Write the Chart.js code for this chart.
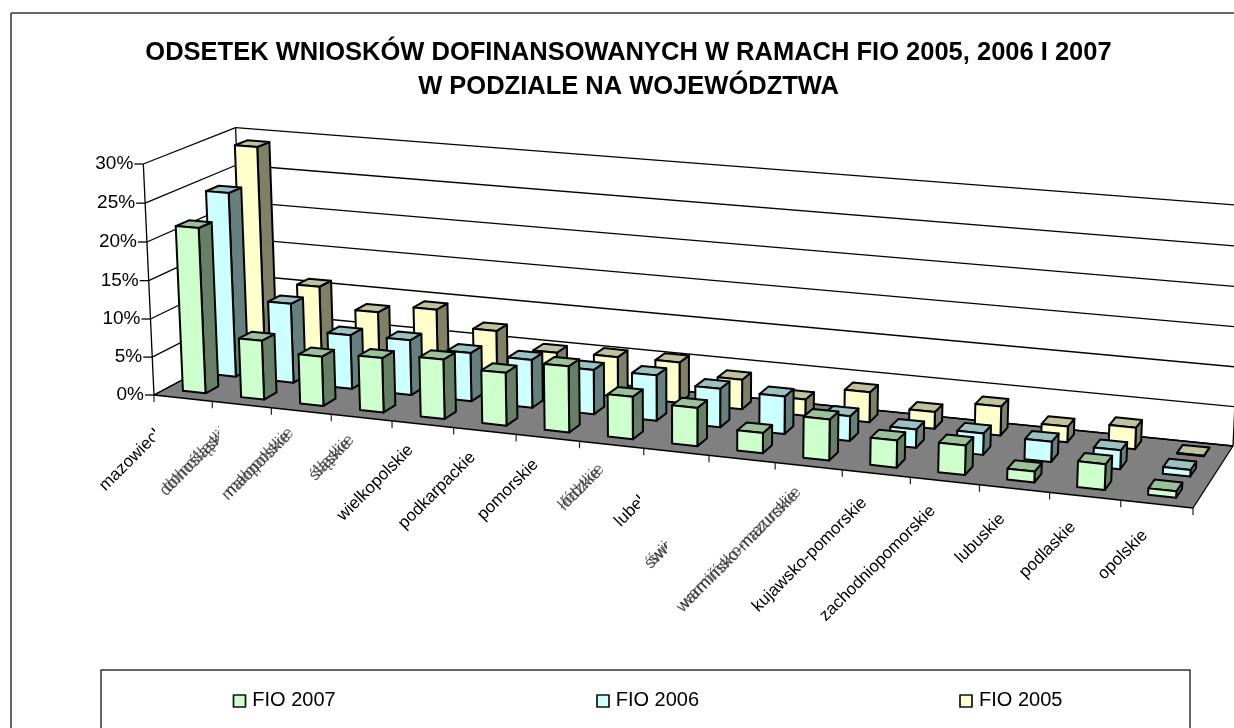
<!DOCTYPE html>
<html><head><meta charset="utf-8">
<style>html,body{margin:0;padding:0;background:#fff;overflow:hidden}canvas{display:block}</style>
<script src="https://cdn.jsdelivr.net/npm/chart.js@4"></script></head>
<body><canvas id="c" width="1234" height="728"></canvas>
<script>
const categories=["mazowieckie","dolnośląskie","małopolskie","śląskie","wielkopolskie","podkarpackie","pomorskie","łódzkie","lubelskie","świętokrzyskie","warmińsko-mazurskie","kujawsko-pomorskie","zachodniopomorskie","lubuskie","podlaskie","opolskie"];
const fio2007=[21.6,7.7,6.4,7.0,7.6,6.7,8.3,5.3,4.75,2.5,5.0,3.3,3.55,1.3,3.05,0.75];
const fio2006=[24.4,10.5,7.1,7.2,6.3,6.2,5.7,5.8,4.9,4.75,3.1,2.3,2.65,2.5,2.3,0.8];
const fio2005=[28.8,10.8,8.1,9.2,7.1,5.0,5.2,5.3,3.85,2.1,3.85,2.15,3.7,2.0,2.7,0.05];
const titleLines=["ODSETEK WNIOSKÓW DOFINANSOWANYCH W RAMACH FIO 2005, 2006 I 2007","W PODZIALE NA WOJEWÓDZTWA"];
const seriesNames=["FIO 2007","FIO 2006","FIO 2005"];

// camera: floor corners in page pixels, vanishing point of the verticals
const floor={p0:[154,395],p1:[1193,508],p2:[1233,446],p3:[244,347]};
const vanish=[690,12000], topFront=164, farShrink=0.04, spreadWarp=0.032;
const FONT='"Liberation Sans", Arial, sans-serif';
const palette=[
 {front:'#CCFFCC',side:'#668066',top:'#99C299'},
 {front:'#CCFFFF',side:'#668080',top:'#99C2C2'},
 {front:'#FFFFCC',side:'#808066',top:'#C2C299'}];

function makeCamera(){
 const [x0,y0]=floor.p0,[x1,y1]=floor.p1,[x2,y2]=floor.p2,[x3,y3]=floor.p3;
 const dx1=x1-x2,dy1=y1-y2,dx2=x3-x2,dy2=y3-y2,sx=x0-x1+x2-x3,sy=y0-y1+y2-y3;
 const det=dx1*dy2-dx2*dy1,g=(sx*dy2-dx2*sy)/det,h=(dx1*sy-sx*dy1)/det;
 const a=x1-x0+g*x1,b=x3-x0+h*x3,d=y1-y0+g*y1,e=y3-y0+h*y3;
 const l=(topFront-y0)/(vanish[1]-topFront);
 return (u0,dp,v0)=>{const u=u0+spreadWarp*u0*(1-u0),v=v0*(1-farShrink*u*dp),w=g*u+h*dp+1+l*v;
  return [(a*u+b*dp+x0+l*vanish[0]*v)/w,(d*u+e*dp+y0+l*vanish[1]*v)/w];};
}
const proj=makeCamera();
function poly(ctx,pts,fill,lw){ctx.beginPath();pts.forEach((p,i)=>i?ctx.lineTo(p[0],p[1]):ctx.moveTo(p[0],p[1]));ctx.closePath();
 if(fill){ctx.fillStyle=fill;ctx.fill();}
 if(lw){ctx.lineWidth=lw;ctx.strokeStyle='#000';ctx.lineJoin='round';ctx.stroke();}}
function seg(ctx,a,b,lw,col){ctx.beginPath();ctx.moveTo(a[0],a[1]);ctx.lineTo(b[0],b[1]);ctx.lineWidth=lw;ctx.strokeStyle=col||'#000';ctx.stroke();}

const BAR_FRACTION=0.39, ROW_START=0.12, ROW_STEP=0.335, ROW_DEPTH=0.14;
// labels that are partly cut or smeared in the picture
const labelClip={0:155,1:219,8:640,9:667};
const labelSmear={1:1,2:1,3:1,7:1,9:1,10:1};
const labelShift={9:[-4,3]};

const draw3d={id:'draw3d',
 beforeDatasetsDraw(chart){
  const ctx=chart.ctx,X=chart.scales.x,Y=chart.scales.y,A=chart.chartArea;
  const U=px=>(px-A.left)/A.width, V=val=>(A.bottom-Y.getPixelForValue(val))/A.height;
  ctx.save();
  ctx.fillStyle='#fff';ctx.fillRect(0,0,1234,728);
  seg(ctx,[11,13],[1234,13],1.5,'#333');seg(ctx,[11,13],[11,728],1.5,'#333');
  // title
  ctx.fillStyle='#000';ctx.textAlign='center';ctx.textBaseline='alphabetic';ctx.font='bold 25.5px '+FONT;
  titleLines.forEach((t,i)=>ctx.fillText(t,628.5,60+i*34));
  // floor
  const c0=proj(0,0,0),c1=proj(1,0,0),c2=proj(1,1,0),c3=proj(0,1,0);
  poly(ctx,[c0,c1,c2,c3],'#808080',1.3);
  // gridlines and walls
  Y.ticks.forEach(t=>{const v=V(t.value);
   const a=proj(0,0,v),b=proj(0,1,v),c=proj(1,1,v);
   seg(ctx,a,b,1.3);seg(ctx,b,c,1.3);
   seg(ctx,[a[0]-9,a[1]],a,1.3);
   ctx.fillStyle='#000';ctx.textAlign='right';ctx.textBaseline='middle';ctx.font='19px '+FONT;
   ctx.fillText(t.value+'%',a[0]-10,a[1]);
  });
  seg(ctx,proj(0,0,0),proj(0,0,1),1.3);
  seg(ctx,proj(0,1,0),proj(0,1,1),1.3);
  seg(ctx,proj(1,1,0),proj(1,1,1),1.3);
  // category ticks
  const n=categories.length;
  for(let i=0;i<=n;i++){const p=proj(i/n,0,0);seg(ctx,p,[p[0],p[1]+7],1.2,'#222');}
  // bars, far row first
  for(let s=chart.data.datasets.length-1;s>=0;s--){
   const ds=chart.data.datasets[s],col=palette[s];
   const d0=ROW_START+s*ROW_STEP,d1=d0+ROW_DEPTH;
   const half=BAR_FRACTION/2/n;
   ds.data.forEach((val,i)=>{
    const uc=U(X.getPixelForValue(i)),u0=uc-half,u1=uc+half,v=V(val);
    const fbl=proj(u0,d0,0),fbr=proj(u1,d0,0),ftl=proj(u0,d0,v),ftr=proj(u1,d0,v);
    const bbr=proj(u1,d1,0),btl=proj(u0,d1,v),btr=proj(u1,d1,v);
    poly(ctx,[fbr,bbr,btr,ftr],col.side,2);
    poly(ctx,[ftl,ftr,btr,btl],col.top,2);
    poly(ctx,[fbl,fbr,ftr,ftl],col.front,2);
   });
  }
  // category labels
  ctx.font='17px '+FONT;ctx.textAlign='right';ctx.textBaseline='middle';
  categories.forEach((name,i)=>{
   const u=U(X.getPixelForValue(i)),p=proj(u,0,0);
   const sh=labelShift[i]||[0,0];
   const ax=p[0]-12+sh[0],ay=p[1]+21+8*u+sh[1];
   ctx.save();
   if(labelClip[i]){ctx.beginPath();ctx.rect(0,0,labelClip[i],728);ctx.clip();}
   const paint=(ox,oy,col)=>{ctx.save();ctx.translate(ax+ox,ay+oy);ctx.rotate(-Math.PI/4);ctx.fillStyle=col;ctx.fillText(name,0,0);ctx.restore();};
   if(labelSmear[i]){paint(2,-3,'rgba(50,50,50,.7)');paint(-1,1,'rgba(30,30,30,.75)');}
   else paint(0,0,'#000');
   ctx.restore();
  });
  // legend
  ctx.lineWidth=1.5;ctx.strokeStyle='#333';ctx.strokeRect(101,670,1089,90);
  const sx=[233.5,597,960],tx=[252.3,615.7,979];
  chart.data.datasets.forEach((ds,i)=>{
   ctx.fillStyle=palette[i].front;ctx.fillRect(sx[i],695,12,12);ctx.lineWidth=1.7;ctx.strokeStyle='#111';ctx.strokeRect(sx[i],695,12,12);
   ctx.fillStyle='#000';ctx.textAlign='left';ctx.textBaseline='alphabetic';ctx.font='20px '+FONT;ctx.fillText(ds.label,tx[i],706);
  });
  ctx.restore();
  return false;
 }};

new Chart(document.getElementById('c'),{
 type:'bar',
 data:{labels:categories,datasets:[
  {label:seriesNames[0],data:fio2007},
  {label:seriesNames[1],data:fio2006},
  {label:seriesNames[2],data:fio2005}]},
 options:{responsive:false,animation:false,
  layout:{padding:0},
  plugins:{legend:{display:false},title:{display:false},tooltip:{enabled:false}},
  scales:{x:{display:false,offset:true},y:{display:false,min:0,max:30,ticks:{stepSize:5}}}},
 plugins:[draw3d]});
</script></body></html>
